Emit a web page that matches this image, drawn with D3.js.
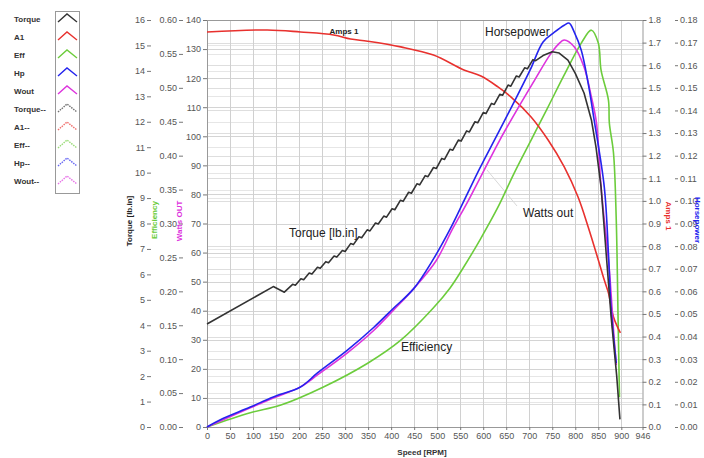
<!DOCTYPE html>
<html><head><meta charset="utf-8">
<script src="https://cdn.jsdelivr.net/npm/d3@7"></script>
<style>
body{margin:0;background:#fff;}
svg{display:block;font-family:"Liberation Sans",Arial,sans-serif;}
</style></head>
<body>
<svg id="c" width="704" height="458"></svg>
<script>
// ---------- data ----------
const xTicks = [0,50,100,150,200,250,300,350,400,450,500,550,600,650,700,750,800,850,900,946];
const torqueTicks = [0,1,2,3,4,5,6,7,8,9,10,11,12,13,14,15,16];
const effTicks = [0,0.05,0.10,0.15,0.20,0.25,0.30,0.35,0.40,0.45,0.50,0.55,0.60];
const wattTicks = [0,10,20,30,40,50,60,70,80,90,100,110,120,130,140];
const ampTicks = [0,0.1,0.2,0.3,0.4,0.5,0.6,0.7,0.8,0.9,1.0,1.1,1.2,1.3,1.4,1.5,1.6,1.7,1.8];
const hpTicks = [0,0.01,0.02,0.03,0.04,0.05,0.06,0.07,0.08,0.09,0.10,0.11,0.12,0.13,0.14,0.15,0.16,0.17,0.18];

const legendNames = ["Torque","A1","Eff","Hp","Wout","Torque--","A1--","Eff--","Hp--","Wout--"];

// Torque [lb.in] vs speed [RPM]
const torqueRpm = [0,144,168,186,192,204,210,222,228,240,246,258,264,276,282,294,300,312,318,330,336,348,354,366,372,384,390,402,408,420,426,438,444,456,462,474,480,492,498,510,516,528,534,546,552,564,570,582,588,600,606,618,624,636,642,654,660,672,678,690,696,708,714,730,750,765,784,800,819,835,845,856,867,878,890,897];
const torqueVal = [4.05,5.52,5.30,5.61,5.57,5.83,5.79,6.05,6.01,6.28,6.24,6.50,6.46,6.72,6.68,6.94,6.90,7.21,7.17,7.48,7.44,7.75,7.71,8.02,7.98,8.29,8.25,8.58,8.54,8.91,8.87,9.23,9.19,9.56,9.52,9.88,9.84,10.20,10.16,10.56,10.52,10.92,10.88,11.28,11.24,11.64,11.60,12.00,11.96,12.36,12.32,12.72,12.68,13.08,13.04,13.44,13.40,13.80,13.76,14.12,14.08,14.44,14.40,14.60,14.75,14.70,14.42,13.90,13.13,12.07,11.00,9.43,6.84,4.30,2.00,0.30];

// Amps 1
const ampRpm = [0,131,203,275,312,349,421,492,558,595,632,660,704,741,776,806,828,850,863,872,883,898];
const ampVal = [1.747,1.756,1.747,1.734,1.716,1.706,1.681,1.645,1.579,1.552,1.504,1.460,1.371,1.269,1.150,1.017,0.885,0.739,0.650,0.593,0.487,0.416];

// Efficiency
const effRpm = [0,94,159,253,349,421,491,528,556,593,632,667,704,741,776,813,835,850,856,872,874,883,889,893,896];
const effVal = [0,0.021,0.032,0.059,0.094,0.128,0.175,0.205,0.234,0.276,0.324,0.374,0.423,0.472,0.519,0.566,0.585,0.566,0.526,0.482,0.448,0.404,0.305,0.158,0.044];

// Horsepower
const hpRpm = [0,28,94,144,203,240,305,362,405,449,491,528,556,593,630,665,702,730,754,776,787,798,813,828,841,863,872,878,889];
const hpVal = [0,0.0031,0.0088,0.0133,0.0177,0.0239,0.0340,0.0440,0.0525,0.0612,0.0740,0.0875,0.0991,0.1146,0.1291,0.1429,0.1579,0.1703,0.1745,0.1777,0.1786,0.1745,0.1666,0.1520,0.1357,0.1061,0.0769,0.0517,0.0283];

// Watts out
const woutRpm = [0,94,144,203,240,305,362,405,449,497,534,565,602,636,673,712,745,763,776,798,819,835,846,856,874,883,889];
const woutVal = [0,6.6,10.0,13.8,17.9,25.5,33.2,40.2,47.6,57.0,68.3,77.1,88.4,98.7,109.0,119.4,128.0,131.6,133.1,130.7,123.8,113.5,104.6,82.6,54.0,33.4,21.3];

// ---------- layout ----------
const svg = d3.select("#c");
const L = 207, R = 642.5, T = 20, B = 427;
const x = d3.scaleLinear().domain([0,946]).range([L,R]);
const yT = d3.scaleLinear().domain([0,16]).range([B,T]);
const yE = d3.scaleLinear().domain([0,0.6]).range([B,T]);
const yW = d3.scaleLinear().domain([0,140]).range([B,T]);
const yA = d3.scaleLinear().domain([0,1.8]).range([B,T]);
const yH = d3.scaleLinear().domain([0,0.18]).range([B,T]);

const cols = {torque:"#333333", amp:"#e8312e", eff:"#6ccc3c", hp:"#2424ee", wout:"#dd33dd"};

// grid
const g = svg.append("g");
function hgrid(scale, ticks, color){
  g.selectAll(null).data(ticks).enter().append("line")
    .attr("x1",L).attr("x2",R)
    .attr("y1",d=>Math.round(scale(d))+0.5).attr("y2",d=>Math.round(scale(d))+0.5)
    .attr("stroke",color).attr("stroke-width",1);
}
hgrid(yE, effTicks, "#e6e6e6");
hgrid(yT, torqueTicks, "#e6e6e6");
hgrid(yA, ampTicks, "#dedede");
hgrid(yW, wattTicks, "#d4d4d4");
g.selectAll(null).data(xTicks.filter(d=>d>0 && d<946)).enter().append("line")
  .attr("x1",d=>Math.round(x(d))+0.5).attr("x2",d=>Math.round(x(d))+0.5)
  .attr("y1",T).attr("y2",B).attr("stroke","#d0d0d0");

// frame
svg.append("line").attr("x1",L).attr("x2",R).attr("y1",T+0.5).attr("y2",T+0.5).attr("stroke","#999");

function styleAxis(sel, domain){
  sel.selectAll("text").attr("fill","#555").style("font-size","9px");
  sel.selectAll(".tick line").attr("stroke","#777");
  if(!domain) sel.select(".domain").remove();
  else sel.select(".domain").attr("stroke","#999");
}
const fmt2 = d3.format(".2f"), fmt1 = d3.format(".1f");

svg.append("g").attr("transform","translate(151,0)")
  .call(d3.axisLeft(yT).tickValues(torqueTicks).tickSize(4).tickPadding(2).tickFormat(d3.format("d")))
  .call(s=>styleAxis(s,false));
svg.append("g").attr("transform","translate(183,0)")
  .call(d3.axisLeft(yE).tickValues(effTicks).tickSize(4).tickPadding(2).tickFormat(fmt2))
  .call(s=>styleAxis(s,false));
svg.append("g").attr("transform","translate("+L+",0)")
  .call(d3.axisLeft(yW).tickValues(wattTicks).tickSize(4).tickPadding(2).tickSizeOuter(0).tickFormat(d3.format("d")))
  .call(s=>styleAxis(s,true));
svg.append("g").attr("transform","translate("+R+",0)")
  .call(d3.axisRight(yA).tickValues(ampTicks).tickSize(4).tickPadding(2).tickSizeOuter(0).tickFormat(fmt1))
  .call(s=>styleAxis(s,true));
svg.append("g").attr("transform","translate(675,0)")
  .call(d3.axisRight(yH).tickValues(hpTicks).tickSize(3).tickPadding(2).tickFormat(fmt2))
  .call(s=>styleAxis(s,false));
svg.append("g").attr("transform","translate(0,"+B+")")
  .call(d3.axisBottom(x).tickValues(xTicks).tickSize(3).tickPadding(3).tickSizeOuter(0).tickFormat(d3.format("d")))
  .call(s=>styleAxis(s,true));

// axis titles
function vtitle(tx, ty, txt, color, rot){
  svg.append("text").attr("transform",`translate(${tx},${ty}) rotate(${rot})`)
    .attr("text-anchor","middle").attr("fill",color)
    .style("font-size","8px").style("font-weight","bold").text(txt);
}
vtitle(132, 221, "Torque [lb.in]", "#222", -90);
vtitle(157, 220, "Efficiency", cols.eff, -90);
vtitle(182, 221, "Watts OUT", cols.wout, -90);
vtitle(666, 216, "Amps 1", cols.amp, 90);
vtitle(695, 220, "Horsepower", cols.hp, 90);
svg.append("text").attr("x",422).attr("y",455).attr("text-anchor","middle")
  .attr("fill","#333").style("font-size","8px").style("font-weight","bold").text("Speed [RPM]");

// faint leader
svg.append("line").attr("x1",487).attr("y1",170).attr("x2",517).attr("y2",206).attr("stroke","#d8d8d8");

// series
function series(xs, ys, yscale, color, curve){
  const data = xs.map((v,i)=>[v,ys[i]]);
  svg.append("path").datum(data)
    .attr("d", d3.line().curve(curve).x(d=>x(d[0])).y(d=>yscale(d[1])))
    .attr("fill","none").attr("stroke",color).attr("stroke-width",1.6)
    .attr("stroke-linejoin","round");
}
const smooth = d3.curveCatmullRom.alpha(0.5);
series(effRpm, effVal, yE, cols.eff, smooth);
series(ampRpm, ampVal, yA, cols.amp, smooth);
series(woutRpm, woutVal, yW, cols.wout, smooth);
series(hpRpm, hpVal, yH, cols.hp, smooth);
series(torqueRpm, torqueVal, yT, cols.torque, d3.curveLinear);

// in-plot labels
svg.append("text").attr("x",344).attr("y",34).attr("text-anchor","middle").attr("fill","#222")
  .style("font-size","8px").style("font-weight","bold").text("Amps 1");
function lab(tx,ty,txt){
  svg.append("text").attr("x",tx).attr("y",ty).attr("fill","#222").style("font-size","12px").text(txt);
}
lab(485,36,"Horsepower");
lab(289,237,"Torque [lb.in]");
lab(523,217,"Watts out");
lab(401,351,"Efficiency");

// legend
const legCols = [cols.torque,cols.amp,cols.eff,cols.hp,cols.wout,cols.torque,cols.amp,cols.eff,cols.hp,cols.wout];
svg.append("rect").attr("x",55.5).attr("y",11.5).attr("width",24).attr("height",182)
  .attr("fill","#fff").attr("stroke","#999");
const lg = svg.append("g");
legendNames.forEach((n,i)=>{
  const cy = 19 + i*18;
  lg.append("text").attr("x",14).attr("y",cy+3).attr("fill","#333")
    .style("font-size","8px").style("font-weight","bold").text(n);
  const p = lg.append("path").attr("d",`M58,${cy+3}L67,${cy-5}L77,${cy+3}`)
    .attr("fill","none").attr("stroke",legCols[i]).attr("stroke-width",1.4);
  if(i>=5) p.attr("stroke-dasharray","1.5,1").attr("opacity",0.7);
});
</script>
</body></html>
